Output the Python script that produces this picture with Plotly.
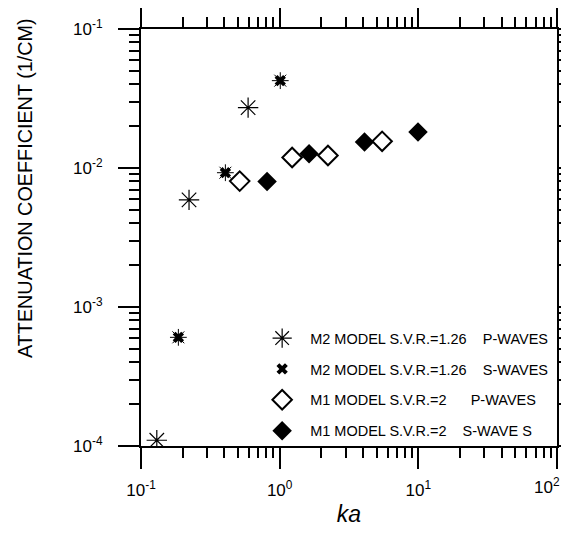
import plotly.graph_objects as go

# ---- data ----
ka_m2_p = [0.130, 0.222, 0.592]
att_m2_p = [1.10e-4, 5.9e-3, 2.72e-2]

ka_m2_s = [0.186, 0.406, 1.01]
att_m2_s = [6.05e-4, 9.25e-3, 4.25e-2]

ka_m1_p = [0.515, 1.23, 2.23, 5.48]
att_m1_p = [8.05e-3, 1.19e-2, 1.23e-2, 1.556e-2]

ka_m1_s = [0.811, 1.63, 4.09, 9.95]
att_m1_s = [7.98e-3, 1.268e-2, 1.54e-2, 1.815e-2]

NB = "\u00a0"
series_names = [
    "M2 MODEL S.V.R.=1.26" + NB * 4 + "P-WAVES",
    "M2 MODEL S.V.R.=1.26" + NB * 4 + "S-WAVES",
    "M1 MODEL S.V.R.=2" + NB * 6 + "P-WAVES",
    "M1 MODEL S.V.R.=2" + NB * 4 + "S-WAVE S",
]

xtick_vals = [0.1, 1, 10, 100]
xtick_text = ["10<sup>-1</sup>", "10<sup>0</sup>", "10<sup>1</sup>", "10<sup>2</sup>"]
ytick_vals = [1e-4, 1e-3, 1e-2, 1e-1]
ytick_text = ["10<sup>-4</sup>", "10<sup>-3</sup>", "10<sup>-2</sup>", "10<sup>-1</sup>"]

x_minor = [m * 10.0 ** e for e in (-1, 0, 1) for m in range(2, 10)]
y_minor = [m * 10.0 ** e for e in (-4, -3, -2) for m in range(2, 10)]

y_title = "ATTENUATION COEFFICIENT (1/CM)"
x_title = "<i>ka</i>"

FONT = "Liberation Sans, Arial, sans-serif"

fig = go.Figure()

fig.add_trace(go.Scatter(
    x=ka_m2_p, y=att_m2_p, mode="markers", name=series_names[0], legendgroup="a",
    marker=dict(symbol="asterisk-open", size=17, color="black", line=dict(color="black", width=1.2)),
))
fig.add_trace(go.Scatter(
    x=ka_m2_s, y=att_m2_s, mode="markers", name=series_names[1], legendgroup="b",
    marker=dict(symbol="x", size=10, color="black", line=dict(color="black", width=0)),
))
fig.add_trace(go.Scatter(
    x=ka_m2_s, y=att_m2_s, mode="markers", showlegend=False, legendgroup="b", hoverinfo="skip",
    marker=dict(symbol="asterisk-open", size=14, color="black", line=dict(color="black", width=1)),
))
fig.add_trace(go.Scatter(
    x=ka_m1_p, y=att_m1_p, mode="markers", name=series_names[2], legendgroup="c",
    marker=dict(symbol="diamond-open", size=15, color="black", line=dict(color="black", width=2)),
))
fig.add_trace(go.Scatter(
    x=ka_m1_s, y=att_m1_s, mode="markers", name=series_names[3], legendgroup="d",
    marker=dict(symbol="diamond", size=15, color="black", line=dict(color="black", width=0)),
))

axis_common = dict(
    type="log",
    automargin=False,
    showgrid=False,
    zeroline=False,
    showline=True,
    linecolor="black",
    linewidth=2,
    mirror="allticks",
    ticks="outside",
    ticklen=21,
    tickwidth=1.5,
    tickcolor="black",
    tickmode="array",
    tickfont=dict(family=FONT, size=17, color="black"),
)

# the last x label sits at the right edge of the page; it is drawn as an
# annotation anchored at the edge so that it stays fully visible
fig.update_xaxes(
    **axis_common,
    range=[-1, 2],
    tickvals=xtick_vals,
    ticktext=xtick_text[:-1] + [""],
    ticklabelstandoff=7,
    minor=dict(tickmode="array", tickvals=x_minor, ticks="outside", ticklen=10,
               tickwidth=1.5, tickcolor="black", showgrid=False),
    title=dict(text=x_title, font=dict(family=FONT, size=23, color="black"), standoff=6),
)
fig.update_yaxes(
    **axis_common,
    range=[-4, -1],
    tickvals=ytick_vals,
    ticktext=ytick_text,
    ticklabelstandoff=12,
    minor=dict(tickmode="array", tickvals=y_minor, ticks="outside", ticklen=10,
               tickwidth=1.5, tickcolor="black", showgrid=False),
)

fig.add_annotation(
    text=xtick_text[-1], showarrow=False,
    xref="paper", yref="paper", x=1.0096, y=-0.067, xanchor="right", yanchor="top",
    font=dict(family=FONT, size=17, color="black"),
    borderpad=0,
)

# y-axis title as a rotated annotation (reference title sits above the plot centre)
fig.add_annotation(
    text=y_title, textangle=-90, showarrow=False,
    xref="paper", yref="paper", x=-0.279, y=1.031, xanchor="center", yanchor="top",
    font=dict(family=FONT, size=19.8, color="black"),
)

# page body has an 8px margin, so the figure is 16px smaller than the window
fig.update_layout(
    width=553, height=520,
    margin=dict(l=133, r=4, t=21, b=82),
    paper_bgcolor="white",
    plot_bgcolor="white",
    font=dict(family=FONT, color="black"),
    legend=dict(
        x=0.272, y=0.297, xanchor="left", yanchor="top",
        bgcolor="rgba(0,0,0,0)", borderwidth=0,
        font=dict(family=FONT, size=14.5, color="black"),
        tracegroupgap=9,
        itemwidth=46,
        itemsizing="trace",
    ),
)

fig.write_html("out.html")
